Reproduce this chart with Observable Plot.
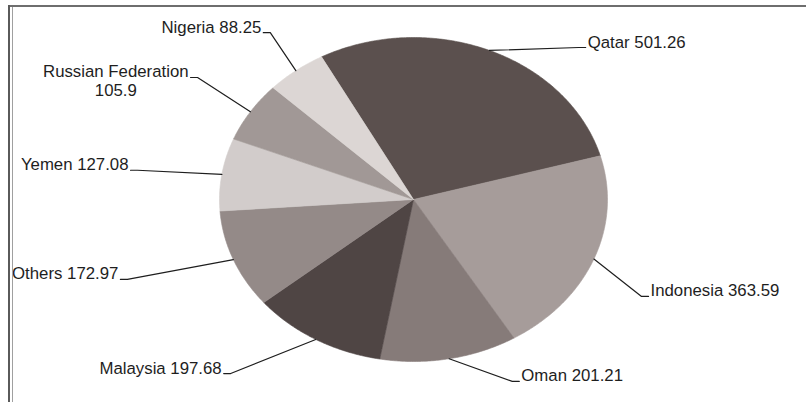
<!DOCTYPE html>
<html><head><meta charset="utf-8">
<script src="https://cdn.jsdelivr.net/npm/d3@7"></script>
<script src="https://cdn.jsdelivr.net/npm/@observablehq/plot@0.6"></script>
<style>
html,body{margin:0;padding:0;background:#fff;}
#wrap{position:relative;width:806px;height:402px;overflow:hidden;background:#fff;}
.b{position:absolute;}
</style></head><body>
<div id="wrap"></div>
<script>
// ---- data ----
const countries = ["Qatar","Indonesia","Oman","Malaysia","Others","Yemen","Russian Federation","Nigeria"];
const values = [501.26,363.59,201.21,197.68,172.97,127.08,105.9,88.25];
const valueLabels = ["501.26","363.59","201.21","197.68","172.97","127.08","105.9","88.25"];
const sliceColors = ["#5b504e","#a69c9a","#867b79","#4f4544","#948a88","#d2cccb","#a19896","#dcd6d4"];
// ---- label layout (Excel-style leader placement): turn in degrees from slice middle, distance in pie radii ----
const labelTurn = [19.2,5.4,-13.8,11.0,3.3,-1.7,1.3,1.7];
const labelRadius = [1.267,1.319,1.233,1.429,1.555,1.434,1.344,1.267];

// ---- layout ----
const W = 806, H = 402, cx = 413, cy = 199, rx = 194, ry = 162;
const startAngle = -28.3, tickPx = 7, gapPx = 2, fontSize = 16.8, lineHeight = 1.1;
const fontFamily = "'Liberation Sans', Arial, sans-serif";

const total = d3.sum(values);
let acc = startAngle;
const slices = countries.map((name, i) => {
  const a0 = acc, a1 = acc + values[i] / total * 360;
  acc = a1;
  return {name, i, a0, a1, mid: (a0 + a1) / 2};
});
const rad = a => a * Math.PI / 180;

const polyPts = slices.flatMap(s => {
  const n = Math.max(2, Math.ceil((s.a1 - s.a0) / 0.5));
  const arr = [{name: s.name, x: 0, y: 0}];
  for (let k = 0; k <= n; k++) {
    const a = rad(s.a0 + (s.a1 - s.a0) * k / n);
    arr.push({name: s.name, x: Math.sin(a), y: Math.cos(a)});
  }
  arr.push({name: s.name, x: 0, y: 0});
  return arr;
});

const ctx = document.createElement("canvas").getContext("2d");
ctx.font = `${fontSize}px ${fontFamily}`;

const leaders = [], labels = [];
slices.forEach(s => {
  const i = s.i;
  const e = rad(s.mid);
  const edge = {x: Math.sin(e), y: Math.cos(e)};
  const la = rad(s.mid + labelTurn[i]);
  const elbow = {x: labelRadius[i] * Math.sin(la), y: labelRadius[i] * Math.cos(la)};
  const side = elbow.x >= 0 ? 1 : -1;
  const tick = {x: elbow.x + side * tickPx / rx, y: elbow.y};
  leaders.push({name: s.name, ...edge}, {name: s.name, ...elbow}, {name: s.name, ...tick});
  const name = s.name.length > 12 ? s.name + "\n" : s.name + " ";
  const text = name + valueLabels[i];
  const w = d3.max(text.split("\n"), t => ctx.measureText(t).width);
  labels.push({text, x: tick.x + side * (gapPx + w / 2) / rx, y: tick.y});
});

const chart = Plot.plot({
  width: W, height: H, margin: 0,
  style: {background: "transparent"},
  x: {domain: [-1, 1], range: [cx - rx, cx + rx], axis: null},
  y: {domain: [-1, 1], range: [cy + ry, cy - ry], axis: null},
  color: {domain: countries, range: sliceColors},
  marks: [
    Plot.line(polyPts, {x: "x", y: "y", z: "name", fill: "name", stroke: "name", strokeWidth: 0.6, curve: "linear"}),
    Plot.line(leaders, {x: "x", y: "y", z: "name", stroke: "#1e1e1e", strokeWidth: 1.2, curve: "linear"}),
    Plot.text(labels, {x: "x", y: "y", text: "text", textAnchor: "middle", lineAnchor: "top",
      dy: -0.71 * fontSize * lineHeight, fontSize, fontFamily, fill: "#1e1e1e", lineHeight})
  ]
});
const wrap = document.getElementById("wrap");
wrap.appendChild(chart);
// frame lines of the original chart area
const mk = css => { const d = document.createElement("div"); d.className = "b"; Object.assign(d.style, css); wrap.appendChild(d); };
mk({left: "8px", top: "5px", width: "798px", height: "2px", background: "#6e6e6e"});
mk({left: "8px", top: "5px", width: "2px", height: "397px", background: "#5a5a5a"});
mk({left: "12px", top: "7px", width: "1px", height: "395px", background: "#a0a0a0"});
</script>
</body></html>
